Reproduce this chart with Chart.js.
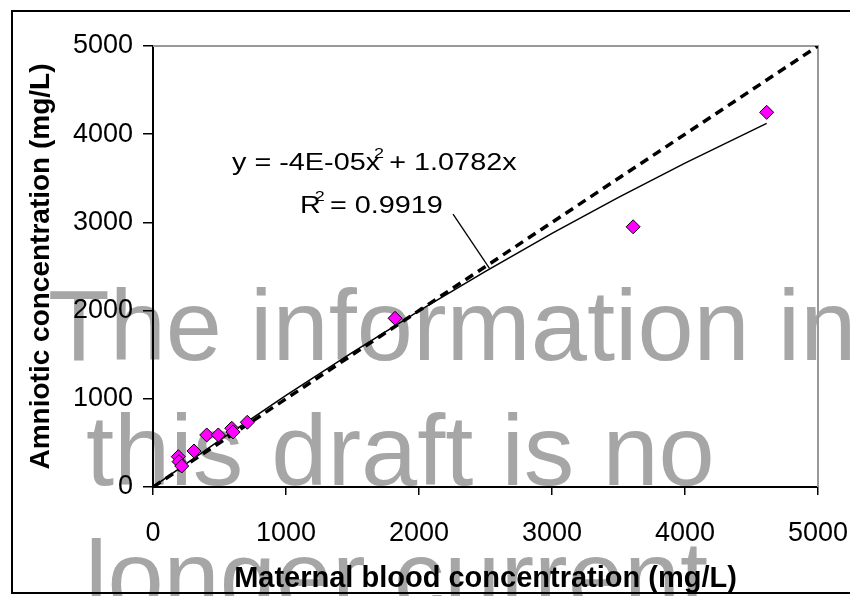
<!DOCTYPE html>
<html lang="en">
<head>
  <meta charset="UTF-8">
  <title>Amniotic vs maternal blood concentration</title>
  <script src="https://cdn.jsdelivr.net/npm/chart.js"></script>
  <style>
    body { margin: 0; padding: 0; background: #fff; }
    .wrap { position: relative; width: 850px; height: 596px; }
  </style>
</head>
<body>
  <div class="wrap">
    <canvas id="concChart"></canvas>
  </div>

  <script>
    // measured samples (mg/L)
    const maternal = [190, 196, 216, 308, 404, 491, 592, 602, 709, 1820, 3610, 4614];
    const amniotic = [344, 287, 238, 408, 590, 590, 666, 624, 734, 1913, 2950, 4248];

    // axis ticks
    const tickValues = [0, 1000, 2000, 3000, 4000, 5000];

    // line of identity
    const identityX = [0, 5000];
    const identityY = [0, 5000];

    // polynomial trendline, y = c2*x^2 + c1*x (intercept set to 0)
    const trendCoef = [-4e-5, 1.0782];
    const trendX = [0, 500, 1000, 1500, 2000, 2500, 3000, 3500, 4000, 4614];
    const trendLabel = ['y = -4E-05x', '2', ' + 1.0782x'];
    const r2Label = ['R', '2', ' = 0.9919'];

    // leader from the R² label to the trendline
    const leaderX = [2256, 2530];
    const leaderY = [3095, 2480];

    const watermark = ['The information in', 'this draft is no', 'longer current'];

    const FONT = "'Liberation Sans', Arial, sans-serif";
    const pts = (xs, ys) => xs.map((x, i) => ({ x: x, y: ys[i] }));
    const trendY = trendX.map(x => trendCoef[0] * x * x + trendCoef[1] * x);

    // grey "draft" text behind the chart
    const watermarkPlugin = {
      id: 'watermark',
      beforeDraw(chart) {
        const ctx = chart.ctx;
        ctx.save();
        ctx.fillStyle = '#a6a6a6';
        ctx.font = '101px ' + FONT;
        ctx.textBaseline = 'alphabetic';
        ctx.fillText(watermark[0], 48, 360);
        ctx.fillText(watermark[1], 86, 485);
        ctx.fillText(watermark[2], 85, 611);
        ctx.restore();
      }
    };

    // outer frame + grey top/right edge of the plot area
    const framePlugin = {
      id: 'frame',
      beforeDatasetsDraw(chart) {
        const { ctx, chartArea: a } = chart;
        ctx.save();
        ctx.strokeStyle = '#999';
        ctx.lineWidth = 2;
        ctx.beginPath();
        ctx.moveTo(a.left, a.top);
        ctx.lineTo(a.right, a.top);
        ctx.lineTo(a.right, a.bottom);
        ctx.stroke();
        ctx.strokeStyle = '#000';
        ctx.lineWidth = 2;
        ctx.strokeRect(12, 11, 845, 582);
        ctx.restore();
      }
    };

    // trendline equation and R² text
    const labelPlugin = {
      id: 'eqLabel',
      afterDatasetsDraw(chart) {
        const { ctx, scales: { x, y } } = chart;
        function sup(parts, px, py) {
          ctx.save();
          ctx.translate(px, py);
          ctx.scale(1.2, 1);
          ctx.fillStyle = '#000';
          ctx.font = '24px ' + FONT;
          ctx.fillText(parts[0], 0, 0);
          let w = ctx.measureText(parts[0]).width;
          ctx.font = '15px ' + FONT;
          ctx.fillText(parts[1], w - 5, -12);
          ctx.font = '24px ' + FONT;
          ctx.fillText(parts[2], w + 1, 0);
          ctx.restore();
        }
        sup(trendLabel, x.getPixelForValue(594), y.getPixelForValue(3594));
        sup(r2Label, x.getPixelForValue(1105), y.getPixelForValue(3106));
      }
    };

    const noPad = s => { s.paddingLeft = 0; s.paddingRight = 0; };

    new Chart(document.getElementById('concChart'), {
      type: 'scatter',
      data: {
        datasets: [
          {
            label: 'Samples',
            data: pts(maternal, amniotic),
            pointStyle: 'rectRot',
            pointRadius: 7,
            backgroundColor: '#ff00ff',
            borderColor: '#000',
            borderWidth: 1
          },
          {
            label: 'Trendline',
            data: pts(trendX, trendY),
            showLine: true,
            pointRadius: 0,
            borderColor: '#000',
            borderWidth: 1.5
          },
          {
            label: 'Leader',
            data: pts(leaderX, leaderY),
            showLine: true,
            pointRadius: 0,
            borderColor: '#000',
            borderWidth: 1.3
          },
          {
            label: 'y = x',
            data: pts(identityX, identityY),
            showLine: true,
            pointRadius: 0,
            borderColor: '#000',
            borderWidth: 3.5,
            borderDash: [9, 6]
          }
        ]
      },
      options: {
        responsive: true,
        maintainAspectRatio: false,
        animation: false,
        layout: { padding: { left: 0, top: 46, right: 32, bottom: 0 } },
        plugins: { legend: { display: false }, tooltip: { enabled: false } },
        scales: {
          x: {
            type: 'linear',
            min: 0, max: 5000,
            afterBuildTicks: s => { s.ticks = tickValues.map(v => ({ value: v })); },
            afterFit: s => { s.height = 109; noPad(s); },
            grid: { drawOnChartArea: false, drawTicks: true, tickLength: 8, color: '#000', lineWidth: 1.5 },
            border: { color: '#000', width: 2 },
            ticks: { color: '#000', padding: 22, font: { family: FONT, size: 27 }, callback: v => String(v) },
            title: {
              display: true,
              text: 'Maternal blood concentration (mg/L)',
              color: '#000',
              padding: { top: 0, bottom: 0 },
              font: { family: FONT, size: 29, weight: 'bold' }
            }
          },
          y: {
            type: 'linear',
            min: 0, max: 5000,
            afterBuildTicks: s => { s.ticks = tickValues.map(v => ({ value: v })); },
            afterFit: s => { s.width = 153; },
            grid: { drawOnChartArea: false, drawTicks: true, tickLength: 10, color: '#000', lineWidth: 1.5 },
            border: { color: '#000', width: 2 },
            ticks: { color: '#000', padding: 10, font: { family: FONT, size: 27 }, callback: v => String(v) },
            title: {
              display: true,
              text: 'Amniotic concentration (mg/L)',
              color: '#000',
              padding: { top: 24, bottom: 0 },
              font: { family: FONT, size: 28, weight: 'bold' }
            }
          }
        }
      },
      plugins: [watermarkPlugin, framePlugin, labelPlugin]
    });
  </script>
</body>
</html>
